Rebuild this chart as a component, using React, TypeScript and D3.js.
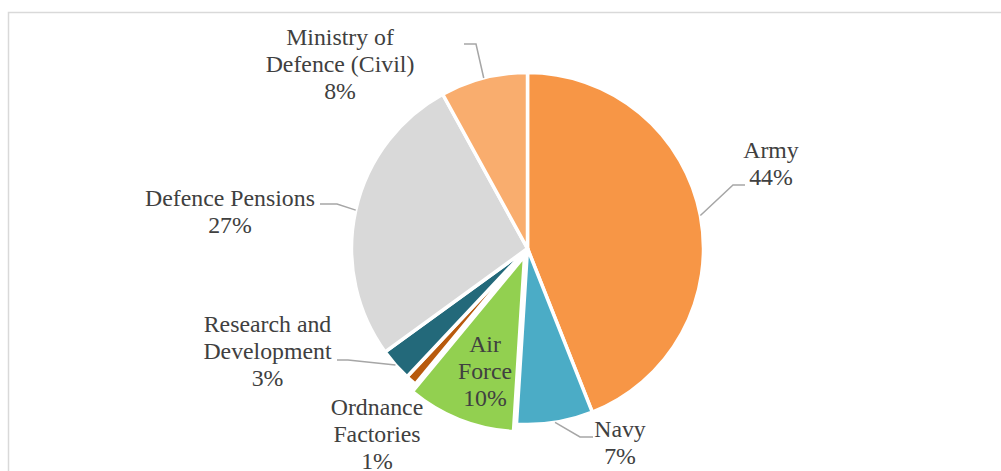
import React from "react";
import * as d3 from "d3";

const categories = ["Army", "Navy", "Air Force", "Ordnance Factories", "Research and Development", "Defence Pensions", "Ministry of Defence (Civil)"];
const values = [44, 7, 10, 1, 3, 27, 8];
const percentLabels = ["44%", "7%", "10%", "1%", "3%", "27%", "8%"];
const nameLines = [["Army"], ["Navy"], ["Air", "Force"], ["Ordnance", "Factories"], ["Research and", "Development"], ["Defence Pensions"], ["Ministry of", "Defence (Civil)"]];
const colors = ["#f79646", "#4bacc6", "#92d050", "#b85a0d", "#23697a", "#d9d9d9", "#f9ad6e"];

// layout (label placement as Excel positioned them)
const explode = [0, 0, 8, 0, 0, 0, 0];
const labelX = [771, 620, 485, 377, 267.5, 230, 340];
const labelY = [158, 437, 352, 415, 332, 206, 45];
const elbows: ([number, number][] | null)[] = [
  [[733, 185], [745, 185]],
  [[580, 437], [593, 437]],
  null,
  null,
  [[348, 360], [337, 360]],
  [[337, 204], [320, 204]],
  [[476, 44], [464, 44]],
];

const FONT = "'Liberation Serif', serif";

export default function App() {
  const W = 1001, H = 471;
  const cx = 527.5, cy = 248.5, r = 176;
  const pie = d3.pie<number>().sort(null).value((d) => d).startAngle(0).endAngle(2 * Math.PI);
  const arcs = pie(values);
  const arcGen = d3.arc<d3.PieArcDatum<number>>().innerRadius(0).outerRadius(r);
  const lineGen = d3.line();
  const step = 27;
  return (
    <svg width={W} height={H} style={{ position: "absolute", left: 0, top: 0, background: "#fff" }}>
      <rect x={8.5} y={12.5} width={1100} height={600} fill="#fff" stroke="#d9d9d9" strokeWidth={1.5} />
      <g transform={`translate(${cx},${cy})`}>
        {arcs.map((a, i) => {
          const mid = (a.startAngle + a.endAngle) / 2;
          const dx = Math.sin(mid) * explode[i];
          const dy = -Math.cos(mid) * explode[i];
          return (
            <path key={categories[i]} d={arcGen(a) || ""} fill={colors[i]} stroke="#fff" strokeWidth={3.5}
              strokeLinejoin="round" transform={`translate(${dx},${dy})`} />
          );
        })}
      </g>
      {arcs.map((a, i) => {
        const e = elbows[i];
        if (!e) return null;
        const mid = (a.startAngle + a.endAngle) / 2;
        const p: [number, number] = [cx + Math.sin(mid) * r, cy - Math.cos(mid) * r];
        return <path key={"l" + i} d={lineGen([p, ...e]) || ""} fill="none" stroke="#a6a6a6" strokeWidth={1.5} />;
      })}
      {categories.map((c, i) => {
        const lines = [...nameLines[i], percentLabels[i]];
        return (
          <text key={"t" + c} x={labelX[i]} y={labelY[i]} textAnchor="middle" fill="#404040"
            fontFamily={FONT} fontSize={23.8}>
            {lines.map((ln, j) => (
              <tspan key={j} x={labelX[i]} y={labelY[i] + j * step}>{ln}</tspan>
            ))}
          </text>
        );
      })}
    </svg>
  );
}
